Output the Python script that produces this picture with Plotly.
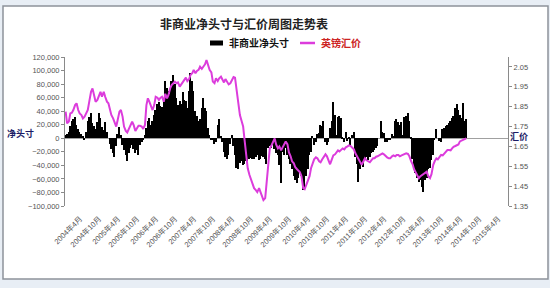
import pandas as pd
import plotly.graph_objects as go

# Non-commercial net position (thousand contracts), semi-monthly readings
net_2004 = [5, 6, 10, 18, 25, 28, 32, 20, 14, 10, 6, 4, -3, 10, 25, 32, 37, 22, 18, 14, 24, 38, 30, 16]
net_2005 = [12, 24, 10, 0, -8, -16, -22, -27, -12, 6, 17, 5, -10, -18, -25, -33, -22, -14, -10, -16, -22, -18, -24, -10]
net_2006 = [-6, -3, 5, 15, 25, 30, 20, 25, 35, 42, 50, 54, 48, 46, 60, 84, 74, 70, 65, 85, 94, 80, 60, 49]
net_2007 = [55, 50, 69, 57, 55, 44, 70, 97, 85, 70, 40, 33, 25, 28, 45, 59, 45, 40, 15, 5, -2, -3, -9, -6]
net_2008 = [20, 28, 3, -5, -20, -28, -30, -25, -8, 5, -12, -25, -44, -46, -36, -33, -39, -38, -34, -33, -30, -29, -31, -30]
net_2009 = [-28, -24, -32, -30, -26, -28, -30, -38, -14, -12, -14, -10, -16, -22, -25, -40, -66, -20, -25, -15, -24, -30, -38, -45]
net_2010 = [-55, -62, -66, -58, -50, -55, -76, -74, -55, -45, -25, -20, 4, -10, -6, 6, 8, 20, 18, 25, -5, -10, -6, 15]
net_2011 = [25, 54, 35, 5, 32, 33, 30, 2, -6, 10, -4, 2, -10, 5, 10, -28, -38, -64, -45, -40, -42, -30, -28, -32]
net_2012 = [-28, -22, -20, -18, -15, -12, 0, 25, 10, 8, -5, -6, -3, -2, 7, 3, 25, 28, 24, 20, 24, 5, 32, 33]
net_2013 = [37, 25, 2, -30, -40, -52, -58, -65, -62, -72, -79, -62, -58, -46, -44, -32, -25, -3, 14, 0, -4, -5, 14, 15]
net_2014 = [18, 20, 22, 25, 30, 33, 45, 50, 42, 35, 30, 52, 25, 28]

# GBP/USD rate, semi-monthly readings
gbp_2004 = [1.825, 1.766, 1.775, 1.816, 1.82, 1.833, 1.858, 1.867, 1.833, 1.816, 1.808, 1.791, 1.80, 1.816, 1.833, 1.875, 1.925, 1.942, 1.909, 1.875, 1.884, 1.90, 1.925, 1.90]
gbp_2005 = [1.925, 1.90, 1.875, 1.867, 1.833, 1.808, 1.791, 1.775, 1.75, 1.783, 1.825, 1.833, 1.80, 1.75, 1.728, 1.72, 1.738, 1.758, 1.775, 1.758, 1.728, 1.74, 1.754, 1.754]
gbp_2006 = [1.75, 1.738, 1.758, 1.858, 1.892, 1.875, 1.845, 1.833, 1.858, 1.90, 1.895, 1.884, 1.895, 1.90, 1.875, 1.915, 1.892, 1.909, 1.942, 1.959, 1.968, 1.976, 1.968, 1.972]
gbp_2007 = [1.951, 1.962, 1.976, 1.984, 1.996, 1.979, 1.989, 2.01, 2.018, 2.035, 2.018, 2.03, 2.035, 2.051, 2.04, 2.051, 2.063, 2.085, 2.063, 2.035, 2.023, 1.976, 1.968, 1.993]
gbp_2008 = [1.979, 1.993, 2.001, 1.984, 1.972, 1.989, 1.972, 1.962, 1.968, 1.984, 1.999, 1.996, 1.942, 1.875, 1.808, 1.775, 1.75, 1.682, 1.607, 1.54, 1.506, 1.486, 1.46, 1.44]
gbp_2009 = [1.43, 1.42, 1.44, 1.42, 1.40, 1.38, 1.39, 1.47, 1.58, 1.64, 1.656, 1.67, 1.69, 1.66, 1.64, 1.65, 1.63, 1.645, 1.66, 1.675, 1.66, 1.62, 1.60, 1.575]
gbp_2010 = [1.565, 1.545, 1.535, 1.525, 1.52, 1.50, 1.44, 1.435, 1.46, 1.475, 1.50, 1.54, 1.56, 1.585, 1.595, 1.59, 1.575, 1.57, 1.585, 1.60, 1.61, 1.60, 1.575, 1.56]
gbp_2011 = [1.585, 1.605, 1.61, 1.62, 1.63, 1.625, 1.632, 1.64, 1.635, 1.645, 1.65, 1.655, 1.652, 1.645, 1.635, 1.615, 1.60, 1.585, 1.57, 1.557, 1.575, 1.59, 1.58, 1.575]
gbp_2012 = [1.57, 1.58, 1.59, 1.59, 1.598, 1.60, 1.607, 1.61, 1.615, 1.61, 1.60, 1.595, 1.59, 1.59, 1.60, 1.605, 1.60, 1.607, 1.607, 1.60, 1.605, 1.607, 1.61, 1.615]
gbp_2013 = [1.612, 1.60, 1.575, 1.56, 1.535, 1.52, 1.50, 1.49, 1.50, 1.506, 1.51, 1.52, 1.523, 1.50, 1.49, 1.51, 1.557, 1.575, 1.59, 1.585, 1.60, 1.607, 1.605, 1.615]
gbp_2014 = [1.625, 1.632, 1.632, 1.63, 1.64, 1.648, 1.652, 1.656, 1.66, 1.675, 1.68, 1.682, 1.685, 1.69]

x_tick_dates = ["2004-04-01", "2004-10-01", "2005-04-01", "2005-10-01", "2006-04-01", "2006-10-01",
                "2007-04-01", "2007-10-01", "2008-04-01", "2008-10-01", "2009-04-01", "2009-10-01",
                "2010-04-01", "2010-10-01", "2011-04-01", "2011-10-01", "2012-04-01", "2012-10-01",
                "2013-04-01", "2013-10-01", "2014-04-01", "2014-10-01", "2015-04-01"]
x_tick_text = ["2004年4月", "2004年10月", "2005年4月", "2005年10月", "2006年4月", "2006年10月",
               "2007年4月", "2007年10月", "2008年4月", "2008年10月", "2009年4月", "2009年10月",
               "2010年4月", "2010年10月", "2011年4月", "2011年10月", "2012年4月", "2012年10月",
               "2013年4月", "2013年10月", "2014年4月", "2014年10月", "2015年4月"]
left_ticks = [-100000, -80000, -60000, -40000, -20000, 0, 20000, 40000, 60000, 80000, 100000, 120000]
right_ticks = [1.35, 1.45, 1.55, 1.65, 1.75, 1.85, 1.95, 2.05]

net_k = (net_2004 + net_2005 + net_2006 + net_2007 + net_2008 + net_2009 + net_2010
         + net_2011 + net_2012 + net_2013 + net_2014)
gbp = (gbp_2004 + gbp_2005 + gbp_2006 + gbp_2007 + gbp_2008 + gbp_2009 + gbp_2010
       + gbp_2011 + gbp_2012 + gbp_2013 + gbp_2014)
net = [v * 1000 for v in net_k]
dates = pd.date_range("2004-01-01", periods=len(net), freq="SMS")

CJK = "Noto Sans CJK SC"
NUM = "Liberation Sans, Arial, Noto Sans CJK SC"

fig = go.Figure()
fig.add_trace(go.Bar(x=dates, y=net, name="非商业净头寸", marker=dict(color="#000000", line=dict(width=0)),
                     showlegend=False))
fig.add_trace(go.Scatter(x=dates, y=gbp, name="英镑汇价", yaxis="y2", mode="lines",
                         line=dict(color="#dc3cdc", width=2), showlegend=False))

W, L, R, T, B = 550, 65, 42, 57, 82
pw = W - L - R
ph = 288 - T - B


def px(xp):
    return (xp - L) / pw


def py(yp):
    return (288 - B - yp) / ph


shapes = [
    dict(type="rect", xref="paper", yref="paper", x0=px(3), x1=px(548), y0=py(279), y1=py(6),
         fillcolor="white", line=dict(color="#8d939b", width=1.5), layer="below"),
    dict(type="line", xref="paper", yref="paper", x0=px(210), x1=px(223), y0=py(43), y1=py(43),
         line=dict(color="#000000", width=5)),
    dict(type="line", xref="paper", yref="paper", x0=px(300), x1=px(315), y0=py(43), y1=py(43),
         line=dict(color="#dc3cdc", width=2.5)),
]

annotations = [
    dict(text="<b>非商业净头寸</b>", xref="paper", yref="paper", x=px(227), y=py(43), xanchor="left",
         yanchor="middle", showarrow=False, font=dict(family=CJK, size=10, color="#111111")),
    dict(text="<b>英镑汇价</b>", xref="paper", yref="paper", x=px(319), y=py(43), xanchor="left",
         yanchor="middle", showarrow=False, font=dict(family=CJK, size=10, color="#cc2222")),
    dict(text="<b>净头寸</b>", xref="paper", yref="paper", x=px(20), y=py(133), xanchor="center",
         yanchor="middle", showarrow=False, font=dict(family=CJK, size=9, color="#1c1c66")),
    dict(text="<b>汇价</b>", xref="paper", yref="paper", x=px(519), y=py(136.5), xanchor="center",
         yanchor="middle", showarrow=False, font=dict(family=CJK, size=9, color="#1c1c66")),
]

fig.update_layout(
    width=W, height=288,
    margin=dict(l=L, r=R, t=T, b=B),
    paper_bgcolor="#e8eef5",
    plot_bgcolor="white",
    bargap=0,
    title=dict(text="<b>非商业净头寸与汇价周图走势表</b>", x=px(244), xref="paper", xanchor="center",
               y=1 - 25 / 288, yref="container", yanchor="middle",
               font=dict(family=CJK, size=12, color="#222222")),
    xaxis=dict(type="date", range=["2003-12-26", "2015-08-20"], tickvals=x_tick_dates, ticktext=x_tick_text,
               tickangle=-45, showgrid=False, showline=False, ticks="", zeroline=False,
               ticklabelstandoff=6, ticklabelshift=5,
               tickfont=dict(family=NUM, size=7.5, color="#555555")),
    yaxis=dict(range=[-100000, 120000], tickvals=left_ticks, tickformat=",d", showgrid=False,
               showline=True, linecolor="#8a8a8a", linewidth=1, ticks="outside", ticklen=3,
               tickcolor="#8a8a8a", zeroline=True, zerolinecolor="#a0a0a0", zerolinewidth=1,
               tickfont=dict(family=NUM, size=7.5, color="#555555")),
    yaxis2=dict(range=[1.35, 2.1], tickvals=right_ticks, tickformat=".2f", overlaying="y", side="right",
                showgrid=False, showline=True, linecolor="#8a8a8a", linewidth=1, ticks="outside",
                ticklen=3, tickcolor="#8a8a8a", zeroline=False,
                tickfont=dict(family=NUM, size=7.5, color="#555555")),
    shapes=shapes,
    annotations=annotations,
)

fig.write_html("out.html")
